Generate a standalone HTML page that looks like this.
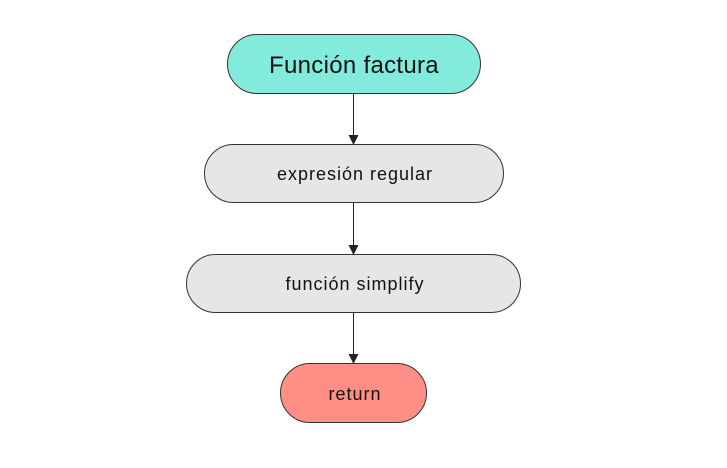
<!DOCTYPE html>
<html><head><style>body{margin:0;background:#fff}</style></head><body>
<svg width="727" height="463" xmlns="http://www.w3.org/2000/svg" font-family="Liberation Sans, sans-serif" text-anchor="middle">
<defs><marker id="a" markerWidth="10" markerHeight="10" refX="9" refY="5" orient="auto" markerUnits="userSpaceOnUse"><path d="M0,0 L10,5 L0,10 z" fill="#222"/></marker></defs>
<rect x="227.5" y="34.5" width="253" height="59" rx="29.5" fill="#83ebdb" stroke="#333"/>
<text x="354" y="73" font-size="24" letter-spacing="0.3" fill="#111">Función factura</text>
<line x1="353.5" y1="94" x2="353.5" y2="144" stroke="#222" marker-end="url(#a)"/>
<rect x="204.5" y="144.5" width="299" height="58" rx="29" fill="#e6e6e6" stroke="#333"/>
<text x="355" y="180" font-size="18" letter-spacing="1" fill="#111">expresión regular</text>
<line x1="353.5" y1="203" x2="353.5" y2="254" stroke="#222" marker-end="url(#a)"/>
<rect x="186.5" y="254.5" width="334" height="58" rx="29" fill="#e6e6e6" stroke="#333"/>
<text x="355" y="290" font-size="18" letter-spacing="1" fill="#111">función simplify</text>
<line x1="353.5" y1="313" x2="353.5" y2="363" stroke="#222" marker-end="url(#a)"/>
<rect x="280.5" y="363.5" width="146" height="59" rx="29.5" fill="#fe8e86" stroke="#333"/>
<text x="355" y="400" font-size="18" letter-spacing="1" fill="#111">return</text>
</svg>
</body></html>
